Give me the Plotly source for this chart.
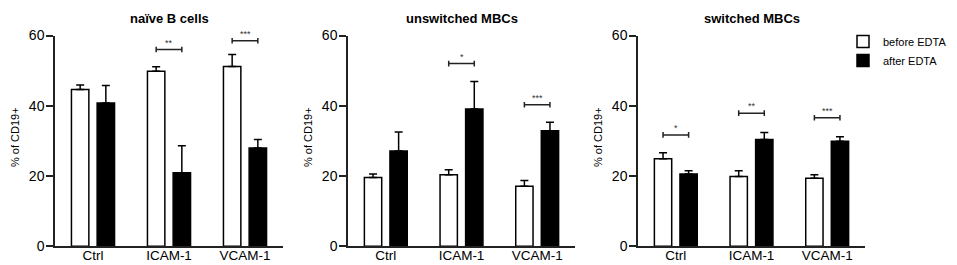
import plotly.graph_objects as go

categories = ["Ctrl", "ICAM-1", "VCAM-1"]
panel_titles = ["naïve B cells", "unswitched MBCs", "switched MBCs"]
series_names = ["before EDTA", "after EDTA"]
y_title = "% of CD19+"
y_ticks = [0, 20, 40, 60]

naive_before = [44.6, 49.8, 51.2]
naive_before_err = [1.3, 1.3, 3.4]
naive_after = [40.8, 20.9, 28.0]
naive_after_err = [5.0, 7.7, 2.4]

unsw_before = [19.6, 20.4, 17.1]
unsw_before_err = [1.0, 1.4, 1.6]
unsw_after = [27.1, 39.1, 32.9]
unsw_after_err = [5.4, 7.8, 2.4]

sw_before = [24.9, 19.9, 19.4]
sw_before_err = [1.7, 1.6, 1.0]
sw_after = [20.6, 30.4, 29.9]
sw_after_err = [0.9, 2.0, 1.3]

naive_sig_cat = [1, 2]
naive_sig_y = [56.0, 58.5]
naive_sig_txt = ["**", "***"]

unsw_sig_cat = [1, 2]
unsw_sig_y = [52.0, 40.3]
unsw_sig_txt = ["*", "***"]

sw_sig_cat = [0, 1, 2]
sw_sig_y = [31.7, 37.9, 36.6]
sw_sig_txt = ["*", "**", "***"]

panels = [
    (naive_before, naive_before_err, naive_after, naive_after_err,
     naive_sig_cat, naive_sig_y, naive_sig_txt),
    (unsw_before, unsw_before_err, unsw_after, unsw_after_err,
     unsw_sig_cat, unsw_sig_y, unsw_sig_txt),
    (sw_before, sw_before_err, sw_after, sw_after_err,
     sw_sig_cat, sw_sig_y, sw_sig_txt),
]

W, H = 957, 265
x_px = [(47, 275), (340, 567), (630, 857)]
y_bottom_px, y_top_px = 238.3, 27.5
FONT = "Liberation Sans, Arial, sans-serif"

bar_w = 0.229
half_sep = 0.169
positions = list(range(len(categories)))

fig = go.Figure()
layout_axes = {}
for i, (bef, bef_e, aft, aft_e, s_cat, s_y, s_txt) in enumerate(panels):
    n = "" if i == 0 else str(i + 1)
    xa, ya = "x" + n, "y" + n
    fig.add_trace(go.Bar(
        x=positions, y=bef, name=series_names[0], legendgroup="b",
        showlegend=(i == 2), width=bar_w, offset=-half_sep - bar_w / 2,
        marker=dict(color="white", line=dict(color="black", width=1.5)),
        error_y=dict(type="data", array=bef_e, arrayminus=[0] * len(bef_e),
                     symmetric=False, color="black", thickness=1.5, width=4),
        xaxis=xa, yaxis=ya,
    ))
    fig.add_trace(go.Bar(
        x=positions, y=aft, name=series_names[1], legendgroup="a",
        showlegend=(i == 2), width=bar_w, offset=half_sep - bar_w / 2,
        marker=dict(color="black", line=dict(color="black", width=1.5)),
        error_y=dict(type="data", array=aft_e, arrayminus=[0] * len(aft_e),
                     symmetric=False, color="black", thickness=1.5, width=4),
        xaxis=xa, yaxis=ya,
    ))
    x0, x1 = x_px[i]
    layout_axes["xaxis" + n] = dict(
        domain=[x0 / W, x1 / W], range=[-0.5, 2.5], anchor=ya,
        tickmode="array", tickvals=positions, ticktext=categories,
        showline=True, linecolor="#222", linewidth=1.5, ticks="",
        ticklabelstandoff=-4,
        showgrid=False, zeroline=False, automargin=False,
        tickfont=dict(family=FONT, size=13.5, color="black"),
        fixedrange=True,
    )
    layout_axes["yaxis" + n] = dict(
        domain=[(H - y_bottom_px) / H, (H - y_top_px) / H], range=[0, 60],
        anchor=xa, tickmode="array", tickvals=y_ticks,
        showline=True, linecolor="#222", linewidth=1.5,
        ticks="outside", ticklen=7, tickwidth=1.5, tickcolor="#222",
        ticklabelstandoff=-1,
        showgrid=False, zeroline=False, automargin=False,
        tickfont=dict(family=FONT, size=14, color="black"),
        fixedrange=True,
    )
    # y-axis title
    fig.add_annotation(
        text=y_title, xref="paper", yref="paper", textangle=-90,
        x=(x0 - 40) / W, y=(H - 129) / H, xanchor="center", yanchor="middle",
        showarrow=False, font=dict(family=FONT, size=11, color="black"),
    )
    # panel title
    fig.add_annotation(
        text="<b>%s</b>" % panel_titles[i], xref="paper", yref="paper",
        x=(x0 + x1) / 2 / W, y=(H - 11) / H, xanchor="center", yanchor="middle",
        showarrow=False, font=dict(family=FONT, size=13, color="black"),
    )
    # significance brackets
    for c, yv, t in zip(s_cat, s_y, s_txt):
        xl, xr = positions[c] - half_sep, positions[c] + half_sep
        fig.add_shape(type="line", xref=xa, yref=ya, x0=xl, x1=xr, y0=yv, y1=yv,
                      line=dict(color="#222", width=1.5))
        for xe in (xl, xr):
            fig.add_shape(type="line", xref=xa, yref=ya, x0=xe, x1=xe,
                          y0=yv - 0.8, y1=yv + 0.8, line=dict(color="#222", width=1.5))
        fig.add_annotation(text=t, xref=xa, yref=ya, x=positions[c], y=yv,
                           xanchor="center", yanchor="bottom", yshift=0,
                           showarrow=False,
                           font=dict(family=FONT, size=9, color="#333"))

fig.update_layout(
    width=W, height=H, margin=dict(l=0, r=0, t=0, b=0),
    plot_bgcolor="white", paper_bgcolor="white",
    barmode="overlay", showlegend=True,
    legend=dict(x=835 / W, y=(H - 19) / H, xanchor="left", yanchor="top",
                font=dict(family=FONT, size=11, color="black"),
                bgcolor="rgba(0,0,0,0)", tracegroupgap=0),
    **layout_axes,
)

fig.write_html("out.html")
